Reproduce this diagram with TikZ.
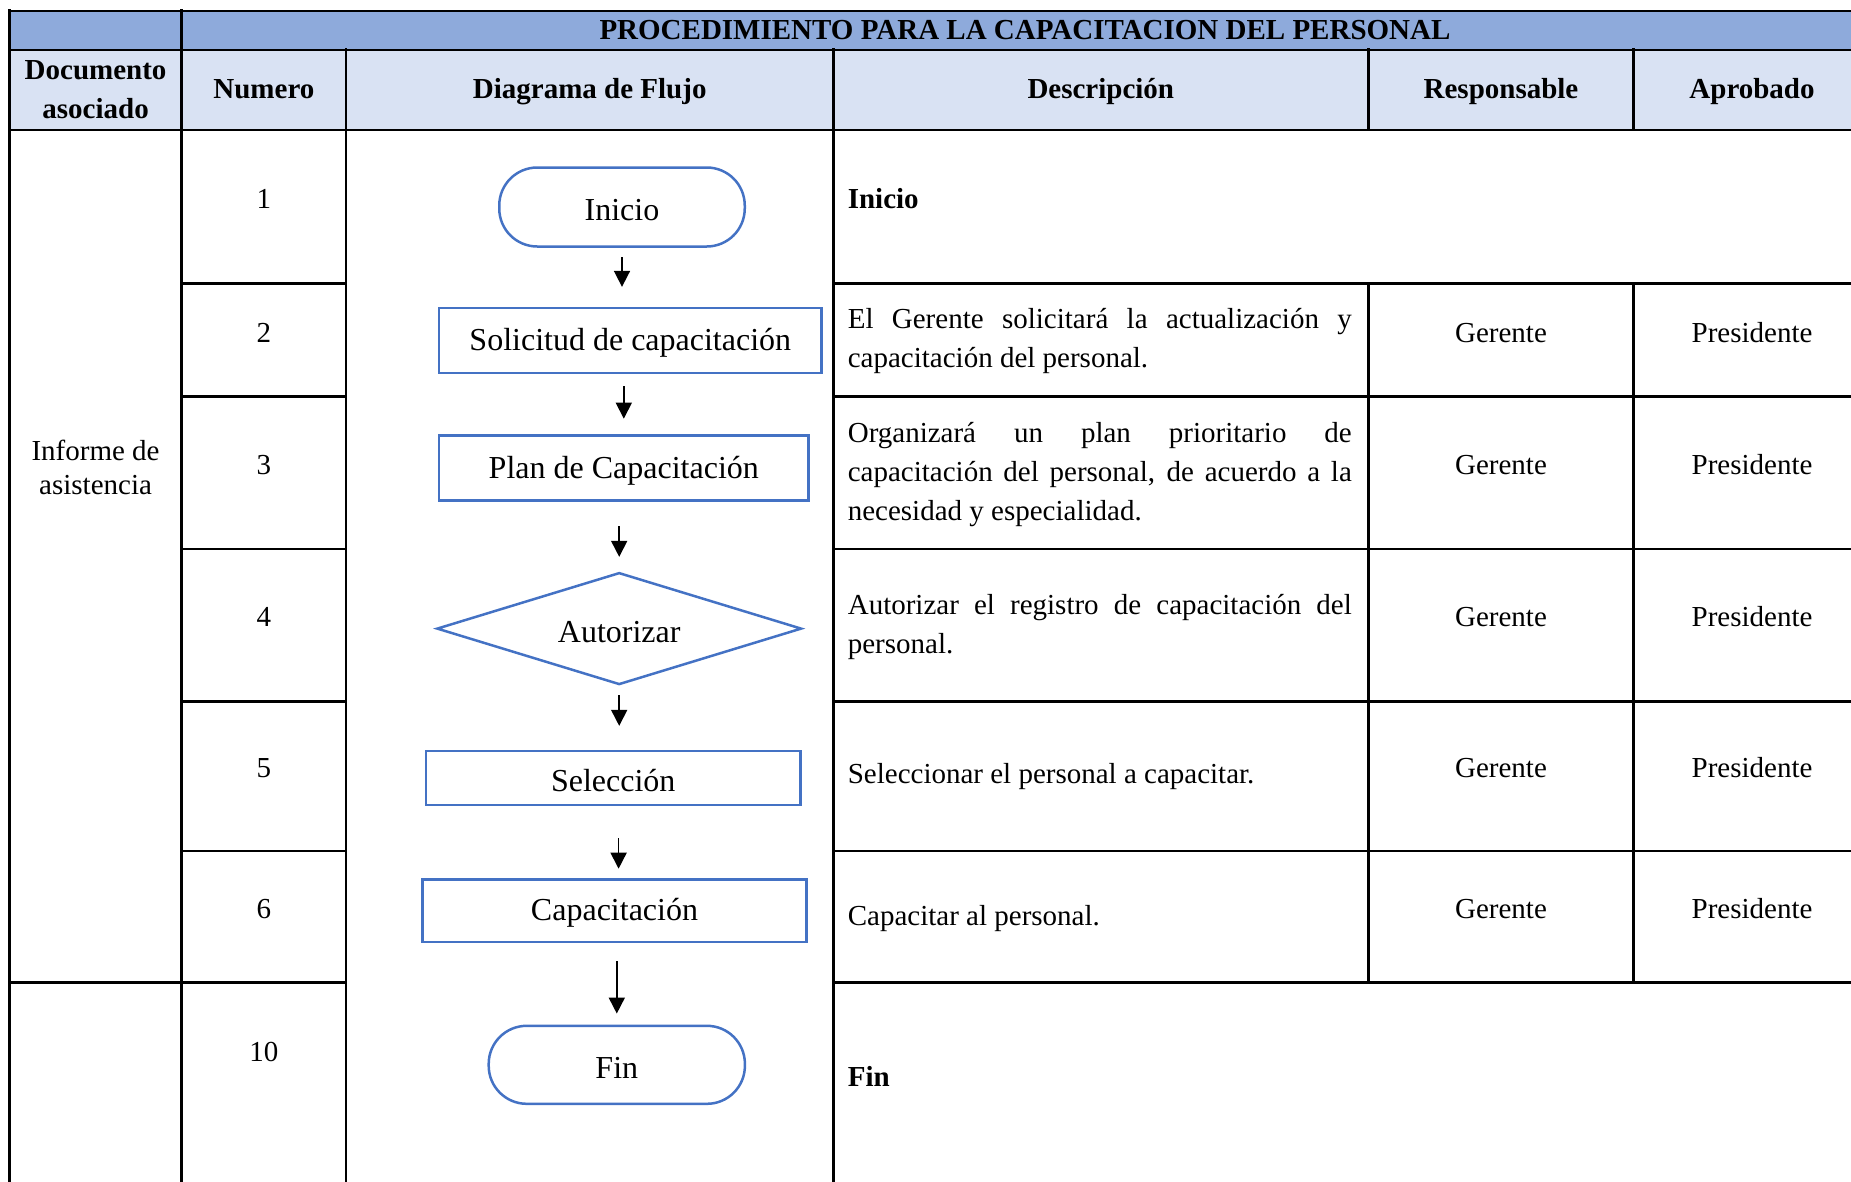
\documentclass[tikz,border=0pt]{standalone}
\usepackage{fontspec}
\setmainfont{Liberation Serif}
\usetikzlibrary{arrows.meta,shapes.geometric,calc}
\definecolor{bandblue}{HTML}{8EAADB}
\definecolor{headblue}{HTML}{D9E2F3}
\definecolor{shapeblue}{HTML}{4472C4}
% flowchart labels: baseline a fixed distance below the shape centre
\newcommand{\fclabel}[2][13.5pt]{\raisebox{-#1}[0pt][0pt]{#2}}

\begin{document}
\begin{tikzpicture}[x=1pt,y=-1pt,
  thickrule/.style={line width=2.7pt, black, line cap=rect},
  thinrule/.style={line width=2pt, black, line cap=rect},
  txt/.style={anchor=base, inner sep=0pt, font=\fontsize{29}{39}\selectfont},
  hdr/.style={anchor=base, inner sep=0pt, font=\fontsize{29}{39}\selectfont\bfseries},
  dsc/.style={anchor=base west, inner sep=0pt, font=\fontsize{29}{39}\selectfont},
  proc/.style={draw=shapeblue, line width=2.5pt, rectangle, inner sep=0pt,
    font=\fontsize{32}{38}\selectfont},
  term/.style={proc, rounded corners=38pt},
  dec/.style={draw=shapeblue, line width=2.5pt, diamond, aspect=3.2, inner sep=0pt,
    font=\fontsize{32}{38}\selectfont},
  flow/.style={line width=1.7pt, -{Triangle[length=16pt,width=16pt]}},
]
\useasboundingbox (0,0) rectangle (1851,1181);

% header backgrounds
\fill[bandblue] (9.4,10.6) rectangle (1851,49.6);
\fill[headblue] (9.4,49.6) rectangle (1851,129.9);

% header rules
\draw[thinrule] (9.4,10.6) -- (1851,10.6);
\draw[thinrule] (9.4,49.6) -- (1851,49.6);
\draw[thickrule] (9.4,129.9) -- (1851,129.9);

% vertical rules
\draw[thickrule] (9.4,10.6) -- (9.4,1181);
\draw[thickrule] (181.8,10.6) -- (181.8,1181);
\draw[thickrule] (345.9,49.6) -- (345.9,1181);
\draw[thickrule] (833.4,49.6) -- (833.4,1181);
\draw[thickrule] (1368.2,49.6) -- (1368.2,129.9);
\draw[thickrule] (1633.8,49.6) -- (1633.8,129.9);
\draw[thickrule] (1368.2,283.3) -- (1368.2,982.2);
\draw[thickrule] (1633.8,283.3) -- (1633.8,982.2);

% horizontal row rules
\foreach \yy in {283.3,396.6,548.9,701.2,851.1}{
  \draw[thickrule] (181.8,\yy) -- (345.9,\yy);
  \draw[thickrule] (833.4,\yy) -- (1851,\yy);
}
\draw[thickrule] (9.4,982.2) -- (345.9,982.2);
\draw[thickrule] (833.4,982.2) -- (1851,982.2);

% headings
\node[hdr] (title) at (1025,39) {PROCEDIMIENTO PARA LA CAPACITACION DEL PERSONAL};
\node[hdr] (hdoca) at (95.6,79) {Documento};
\node[hdr] (hdocb) at (95.6,118) {asociado};
\node[hdr] (hnum) at (263.9,98.5) {Numero};
\node[hdr] (hdia) at (589.7,98.5) {Diagrama de Flujo};
\node[hdr] (hdes) at (1100.8,98.5) {Descripción};
\node[hdr] (hres) at (1501,98.5) {Responsable};
\node[hdr] (hapr) at (1752,98.5) {Aprobado};

% associated document
\node[txt] (doca) at (95.6,460.5) {Informe de};
\node[txt] (docb) at (95.6,494.5) {asistencia};

% step numbers
\node[txt] (n1) at (263.9,208.5) {1};
\node[txt] (n2) at (263.9,342) {2};
\node[txt] (n3) at (263.9,474) {3};
\node[txt] (n4) at (263.9,626.5) {4};
\node[txt] (n5) at (263.9,777.5) {5};
\node[txt] (n6) at (263.9,918.5) {6};
\node[txt] (n10) at (263.9,1061.5) {10};

% descriptions
\node[dsc, font=\fontsize{29}{39}\selectfont\bfseries] (d1) at (847.6,208.5) {Inicio};
\node[dsc] (d2) at (847.6,328.5) {\parbox[t]{504pt}{%
  \makebox[504pt][s]{El Gerente solicitará la actualización y}\\
  capacitación del personal.}};
\node[dsc] (d3) at (847.6,442) {\parbox[t]{504pt}{%
  \makebox[504pt][s]{Organizará un plan prioritario de}\\
  \makebox[504pt][s]{capacitación del personal, de acuerdo a la}\\
  necesidad y especialidad.}};
\node[dsc] (d4) at (847.6,614) {\parbox[t]{504pt}{%
  \makebox[504pt][s]{Autorizar el registro de capacitación del}\\
  personal.}};
\node[dsc] (d5) at (847.6,783) {Seleccionar el personal a capacitar.};
\node[dsc] (d6) at (847.6,925) {Capacitar al personal.};
\node[dsc, font=\fontsize{29}{39}\selectfont\bfseries] (d10) at (847.6,1086) {Fin};

% responsible and approver
\foreach \yy/\k in {342/2,474/3,626.5/4,777.5/5,918.5/6}{
  \node[txt] (r\k) at (1501,\yy) {Gerente};
  \node[txt] (a\k) at (1752,\yy) {Presidente};
}

% flowchart
\node[term, minimum width=245.5pt, minimum height=79pt] (ini) at (622,207) {\fclabel{Inicio}};
\node[proc, minimum width=382.6pt, minimum height=65pt] (sol) at (630.3,340.6) {\fclabel[10pt]{Solicitud de capacitación}};
\node[proc, minimum width=369.6pt, minimum height=65pt] (plan) at (623.8,468) {\fclabel[10pt]{Plan de Capacitación}};
\node[dec, minimum width=364.8pt, minimum height=112pt] (aut) at (619.2,628.6) {\fclabel{Autorizar}};
\node[proc, minimum width=374.4pt, minimum height=54.2pt] (sel) at (613.2,778) {\fclabel{Selección}};
\node[proc, minimum width=383.7pt, minimum height=62.5pt] (cap) at (614.5,910.7) {\fclabel[10pt]{Capacitación}};
\node[term, minimum width=256.2pt, minimum height=78pt] (fin) at (616.8,1064.8) {\fclabel{Fin}};

\draw[flow, shorten <=9.5pt, shorten >=20pt] (ini.south) -- (ini.south |- sol.north);
\draw[flow, shorten <=12pt, shorten >=15.6pt] (plan.north |- sol.south) -- (plan.north);
\draw[flow, shorten <=24.5pt, shorten >=14.5pt] (aut.north |- plan.south) -- (aut.north);
\draw[flow, shorten <=9.3pt, shorten >=23.8pt] (aut.south) -- (aut.south |- sel.north);
\draw[flow, shorten <=32pt, shorten >=9.5pt] ($(sel.south)+(5.4,0)$) -- ($(sel.south |- cap.north)+(5.4,0)$);
\draw[flow, shorten <=18pt, shorten >=11pt] (fin.north |- cap.south) -- (fin.north);
\end{tikzpicture}
\end{document}
